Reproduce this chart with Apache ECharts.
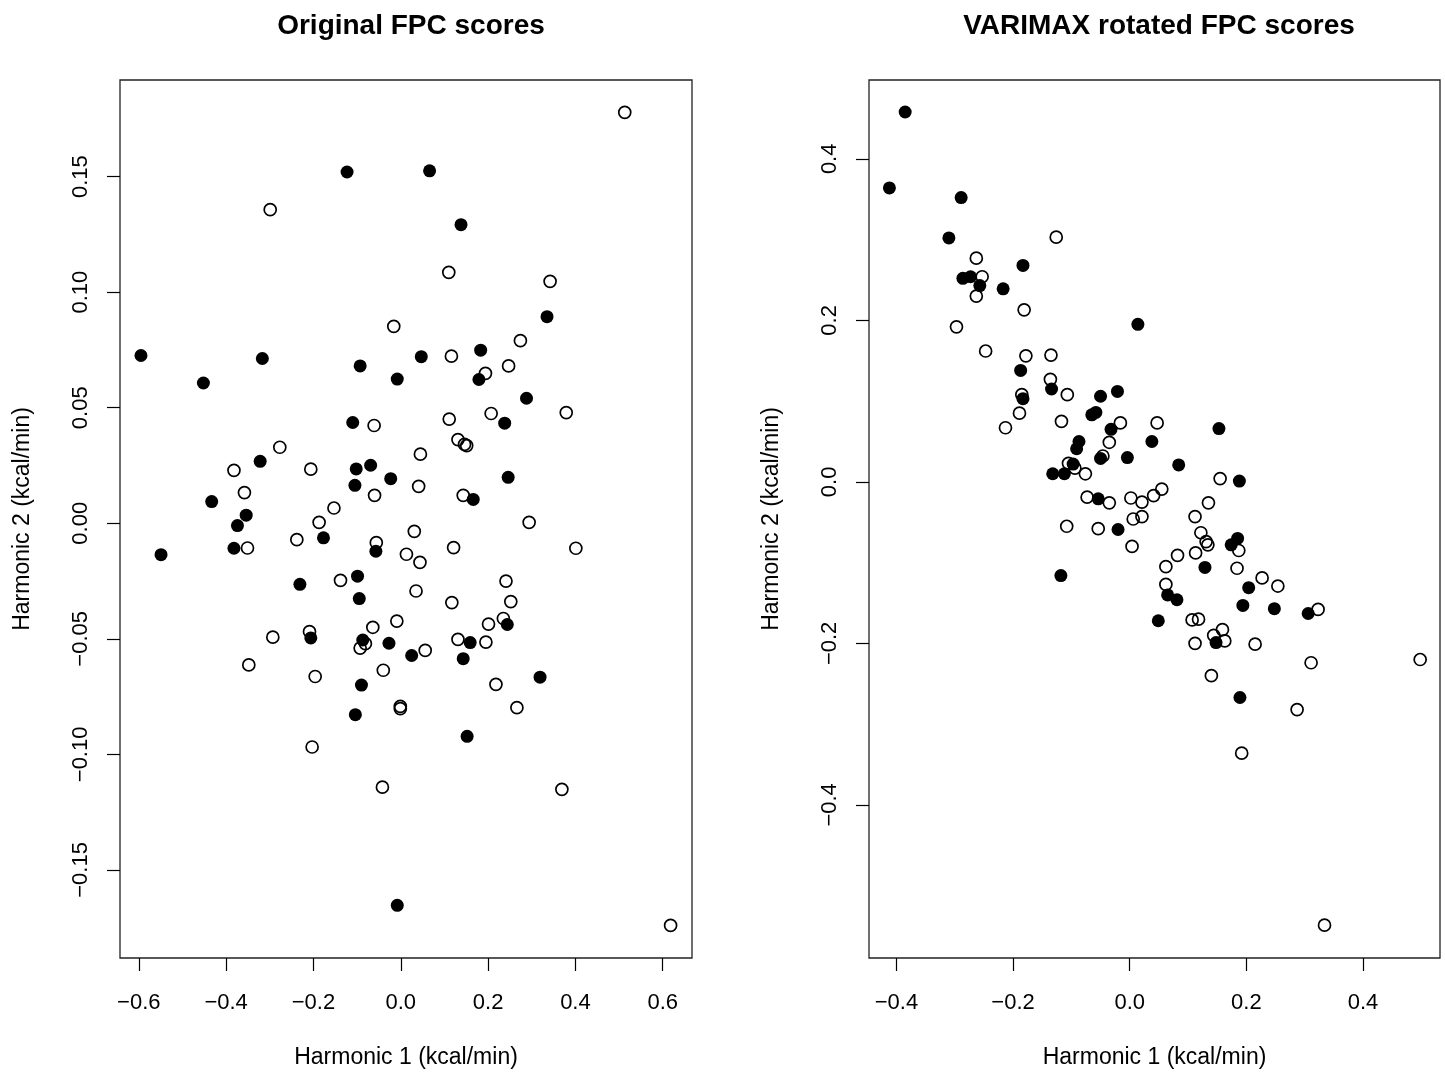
<!DOCTYPE html>
<html>
<head>
<meta charset="utf-8">
<script src="https://cdn.jsdelivr.net/npm/echarts@6/dist/echarts.min.js"></script>
<style>
html, body { margin: 0; padding: 0; background: #fff; }
#chart { width: 1445px; height: 1072px; }
</style>
</head>
<body>
<div id="chart"></div>
<script>
// scores, [harmonic 1, harmonic 2]
const origOpen = [
  [-0.299,0.1357],[-0.016,0.0852],[-0.061,0.0423],[-0.277,0.0329],[-0.382,0.0229],[-0.206,0.0234],
  [-0.060,0.0121],[-0.358,0.0133],[-0.153,0.0066],[-0.187,0.0004],[0.513,0.1778],[0.110,0.1086],
  [0.342,0.1047],[0.274,0.0790],[0.116,0.0723],[0.247,0.0681],[0.194,0.0649],[0.379,0.0479],
  [0.207,0.0475],[0.111,0.0451],[0.131,0.0362],[0.146,0.0341],[0.151,0.0336],[0.045,0.0299],
  [0.041,0.0160],[0.143,0.0121],[0.294,0.0004],[-0.351,-0.0107],[-0.238,-0.0071],[-0.056,-0.0084],
  [0.013,-0.0134],[0.031,-0.0035],[-0.138,-0.0247],[-0.009,-0.0423],[-0.064,-0.0450],[-0.293,-0.0493],
  [-0.209,-0.0469],[-0.081,-0.0521],[-0.093,-0.0540],[-0.348,-0.0613],[-0.196,-0.0663],[-0.040,-0.0636],
  [-0.001,-0.0792],[-0.001,-0.0802],[-0.203,-0.0968],[-0.042,-0.1142],[0.121,-0.0105],[0.401,-0.0108],
  [0.044,-0.0169],[0.035,-0.0293],[0.241,-0.0250],[0.117,-0.0343],[0.252,-0.0339],[0.235,-0.0412],
  [0.201,-0.0436],[0.131,-0.0502],[0.195,-0.0514],[0.056,-0.0550],[0.218,-0.0697],[0.266,-0.0798],
  [0.369,-0.1151],[0.618,-0.1740]
];
const origFilled = [
  [-0.123,0.1520],[-0.595,0.0726],[-0.317,0.0713],[-0.093,0.0681],[-0.008,0.0624],[-0.452,0.0607],
  [-0.110,0.0436],[-0.322,0.0268],[-0.102,0.0235],[-0.069,0.0251],[-0.023,0.0193],[-0.105,0.0164],
  [-0.433,0.0094],[-0.354,0.0035],[0.066,0.1525],[0.138,0.1292],[0.335,0.0894],[0.183,0.0749],
  [0.047,0.0721],[0.179,0.0622],[0.288,0.0541],[0.238,0.0433],[0.246,0.0199],[0.166,0.0103],
  [-0.374,-0.0010],[-0.382,-0.0108],[-0.549,-0.0136],[-0.177,-0.0063],[-0.057,-0.0121],[-0.231,-0.0264],
  [-0.099,-0.0229],[-0.095,-0.0326],[-0.206,-0.0496],[-0.087,-0.0505],[-0.027,-0.0519],[0.025,-0.0572],
  [-0.090,-0.0700],[-0.104,-0.0828],[-0.008,-0.1653],[0.244,-0.0438],[0.159,-0.0516],[0.143,-0.0586],
  [0.319,-0.0666],[0.152,-0.0922]
];
const varimaxOpen = [
  [-0.126,0.303],[-0.263,0.277],[-0.253,0.254],[-0.263,0.230],[-0.181,0.213],[-0.297,0.192],
  [-0.247,0.162],[-0.178,0.156],[-0.135,0.157],[-0.136,0.127],[-0.107,0.108],[-0.185,0.108],
  [-0.189,0.085],[-0.117,0.075],[-0.213,0.067],[-0.016,0.073],[0.047,0.073],[-0.035,0.049],
  [-0.046,0.032],[-0.105,0.023],[-0.094,0.017],[-0.076,0.010],[-0.073,-0.019],[-0.035,-0.026],
  [0.002,-0.020],[0.021,-0.025],[0.055,-0.009],[0.041,-0.017],[0.006,-0.046],[0.021,-0.043],
  [-0.108,-0.055],[-0.054,-0.058],[0.004,-0.080],[0.155,0.004],[0.135,-0.026],[0.112,-0.043],
  [0.122,-0.063],[0.131,-0.074],[0.134,-0.078],[0.187,-0.085],[0.113,-0.088],[0.082,-0.091],
  [0.062,-0.105],[0.184,-0.107],[0.227,-0.119],[0.254,-0.129],[0.062,-0.127],[0.323,-0.158],
  [0.107,-0.171],[0.118,-0.170],[0.159,-0.183],[0.144,-0.190],[0.163,-0.197],[0.112,-0.200],
  [0.215,-0.201],[0.311,-0.224],[0.498,-0.220],[0.140,-0.240],[0.287,-0.282],[0.192,-0.336],
  [0.334,-0.549]
];
const varimaxFilled = [
  [-0.385,0.458],[-0.412,0.364],[-0.289,0.352],[-0.310,0.302],[-0.183,0.268],[-0.286,0.252],
  [-0.273,0.254],[-0.257,0.243],[-0.217,0.239],[0.014,0.195],[-0.187,0.138],[-0.134,0.115],
  [-0.050,0.106],[-0.021,0.112],[-0.183,0.103],[-0.065,0.083],[-0.058,0.086],[-0.032,0.065],
  [0.038,0.050],[-0.087,0.050],[-0.091,0.041],[-0.050,0.029],[-0.004,0.030],[-0.097,0.022],
  [-0.132,0.010],[-0.112,0.010],[-0.054,-0.021],[-0.020,-0.059],[-0.118,-0.116],[0.049,-0.172],
  [0.153,0.066],[0.084,0.021],[0.188,0.001],[0.185,-0.070],[0.174,-0.078],[0.129,-0.106],
  [0.204,-0.131],[0.065,-0.140],[0.081,-0.146],[0.194,-0.153],[0.248,-0.157],[0.306,-0.163],
  [0.148,-0.199],[0.189,-0.267]
];

// tick positions
const origXTicks = [-0.6, -0.4, -0.2, 0.0, 0.2, 0.4, 0.6];
const origYTicks = [-0.15, -0.10, -0.05, 0.00, 0.05, 0.10, 0.15];
const varimaxXTicks = [-0.4, -0.2, 0.0, 0.2, 0.4];
const varimaxYTicks = [-0.4, -0.2, 0.0, 0.2, 0.4];

// plotting ranges (R extends the data range by 4%)
const origXRange = [-0.643, 0.667];
const origYRange = [-0.1881, 0.1918];
const varimaxXRange = [-0.447, 0.532];
const varimaxYRange = [-0.5896, 0.4976];

const FONT = '"Liberation Sans", Arial, Helvetica, sans-serif';

function fmt(v, digits) {
  if (Math.abs(v) < 1e-9) v = 0;
  return v.toFixed(digits).replace('-', '\u2212');
}

function xAxisFor(gridIndex, range, ticks, digits) {
  return {
    type: 'value', gridIndex: gridIndex,
    min: range[0], max: range[1],
    name: 'Harmonic 1 (kcal/min)', nameLocation: 'middle', nameGap: 88,
    nameTextStyle: { fontSize: 23, color: '#000', fontFamily: FONT },
    axisLine: { show: false, onZero: false },
    axisTick: { show: true, length: 13, customValues: ticks, lineStyle: { color: '#000', width: 1.2 } },
    axisLabel: {
      customValues: ticks, margin: 34, fontSize: 22, color: '#000', fontFamily: FONT,
      formatter: function (v) { return fmt(v, digits); }
    },
    splitLine: { show: false }
  };
}

function yAxisFor(gridIndex, range, ticks, digits) {
  return {
    type: 'value', gridIndex: gridIndex,
    min: range[0], max: range[1],
    name: 'Harmonic 2 (kcal/min)', nameLocation: 'middle', nameGap: 86,
    nameTextStyle: { fontSize: 23, color: '#000', fontFamily: FONT },
    axisLine: { show: false, onZero: false },
    axisTick: { show: true, length: 13, customValues: ticks, lineStyle: { color: '#000', width: 1.2 } },
    axisLabel: {
      customValues: ticks, margin: 28, rotate: 90, fontSize: 22, color: '#000', fontFamily: FONT,
      formatter: function (v) { return fmt(v, digits); }
    },
    splitLine: { show: false }
  };
}

function openSeries(idx, data) {
  return {
    type: 'scatter', xAxisIndex: idx, yAxisIndex: idx, data: data,
    symbol: 'circle', symbolSize: 12, silent: true,
    itemStyle: { color: 'rgba(255,255,255,0)', borderColor: '#000', borderWidth: 1.7, opacity: 1 }
  };
}

function filledSeries(idx, data) {
  return {
    type: 'scatter', xAxisIndex: idx, yAxisIndex: idx, data: data,
    symbol: 'circle', symbolSize: 13, silent: true,
    itemStyle: { color: '#000', borderWidth: 0, opacity: 1 }
  };
}

let myChart = echarts.init(document.getElementById('chart'));
let option = {
  animation: false,
  backgroundColor: '#fff',
  title: [
    { text: 'Original FPC scores', left: 406, top: 7, textAlign: 'center',
      textStyle: { fontSize: 28, fontWeight: 'bold', color: '#000', fontFamily: FONT } },
    { text: 'VARIMAX rotated FPC scores', left: 1154, top: 7, textAlign: 'center',
      textStyle: { fontSize: 28, fontWeight: 'bold', color: '#000', fontFamily: FONT } }
  ],
  grid: [
    { left: 120, top: 80, width: 572, height: 878, outerBoundsMode: 'none', containLabel: false,
      show: true, borderColor: '#222', borderWidth: 1.3, backgroundColor: 'transparent' },
    { left: 869, top: 80, width: 571, height: 878, outerBoundsMode: 'none', containLabel: false,
      show: true, borderColor: '#222', borderWidth: 1.3, backgroundColor: 'transparent' }
  ],
  xAxis: [
    xAxisFor(0, origXRange, origXTicks, 1),
    xAxisFor(1, varimaxXRange, varimaxXTicks, 1)
  ],
  yAxis: [
    yAxisFor(0, origYRange, origYTicks, 2),
    yAxisFor(1, varimaxYRange, varimaxYTicks, 1)
  ],
  series: [
    openSeries(0, origOpen),
    filledSeries(0, origFilled),
    openSeries(1, varimaxOpen),
    filledSeries(1, varimaxFilled)
  ]
};
myChart.setOption(option);
</script>
</body>
</html>
